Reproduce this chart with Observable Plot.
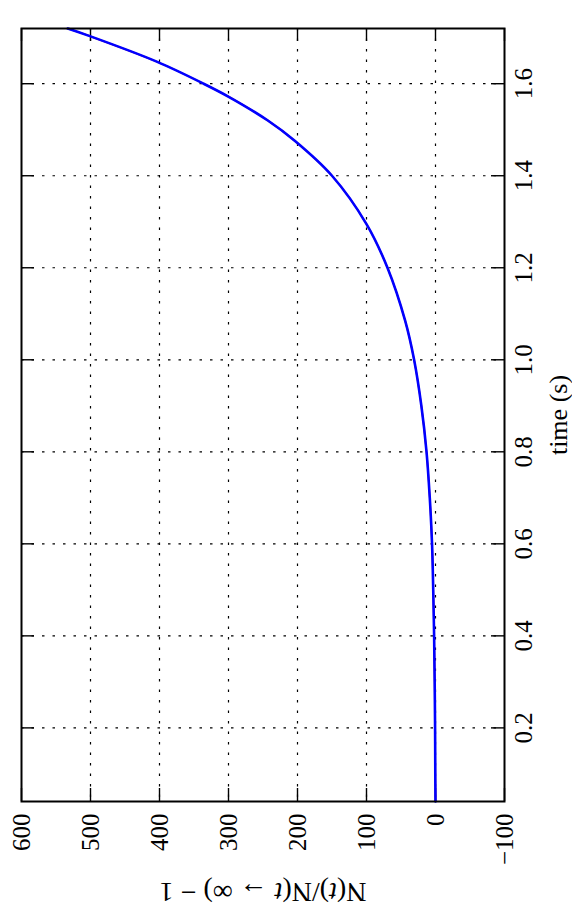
<!DOCTYPE html>
<html><head><meta charset="utf-8">
<script src="https://cdn.jsdelivr.net/npm/d3@7"></script>
<script src="https://cdn.jsdelivr.net/npm/@observablehq/plot@0.6"></script>
<style>body{margin:0;background:#fff;} svg{display:block;}</style>
</head><body><div id="chart"></div>
<script>
// time (s)
const timeS = [0.04, 0.1, 0.2, 0.3, 0.4, 0.5, 0.6, 0.7, 0.8, 0.9, 1.0, 1.085, 1.2, 1.295, 1.4, 1.476, 1.52, 1.571, 1.6, 1.648, 1.704, 1.72];
// N(t)/N(t -> inf) - 1
const ratioValues = [0, 0.3, 0.6, 1.2, 2, 3.3, 5, 8.3, 13, 20.5, 31, 44, 69.6, 100, 150, 204, 243, 299, 336, 404, 502, 533];
const nTicks = [600, 500, 400, 300, 200, 100, 0, -100];
const nTickLabels = ["600", "500", "400", "300", "200", "100", "0", "\u2212100"];
const timeTicks = [0.2, 0.4, 0.6, 0.8, 1.0, 1.2, 1.4, 1.6];
const timeTickLabels = ["0.2", "0.4", "0.6", "0.8", "1.0", "1.2", "1.4", "1.6"];
const timeLabel = "time (s)";
const nLabel = "N(t)/N(t \u2192 \u221E) \u2212 1";

const data = timeS.map((t, i) => ({t, n: ratioValues[i]}));
const nTickData = nTicks.map((v, i) => ({v, label: nTickLabels[i]}));
const timeTickData = timeTicks.map((v, i) => ({v, label: timeTickLabels[i]}));

const W = 572, H = 923, mL = 21, mR = 68, mT = 28, mB = 122;
const frameW = W - mL - mR, frameH = H - mT - mB;
const tickLen = 13;
const gridStyle = {stroke: "#000", strokeOpacity: 1, strokeWidth: 1.2, strokeDasharray: "2.5,8"};
const tickStyle = {stroke: "#000", strokeWidth: 1.4};
const serif = "'Liberation Serif', 'DejaVu Serif', serif";

const plot = Plot.plot({
  width: W, height: H,
  marginLeft: mL, marginRight: mR, marginTop: mT, marginBottom: mB,
  style: {fontFamily: serif, fontSize: "25px", background: "#fff", color: "#000"},
  x: {domain: [-100, 600], reverse: true, axis: null},
  y: {domain: [0.04, 1.72], axis: null},
  marks: [
    Plot.ruleX(nTicks.slice(1, -1), {x: d => d, ...gridStyle}),
    Plot.ruleY(timeTicks, {y: d => d, ...gridStyle}),
    Plot.ruleX(nTicks, {x: d => d, insetTop: frameH - tickLen, ...tickStyle}),
    Plot.ruleX(nTicks, {x: d => d, insetBottom: frameH - tickLen, ...tickStyle}),
    Plot.ruleY(timeTicks, {y: d => d, insetLeft: frameW - tickLen, ...tickStyle}),
    Plot.ruleY(timeTicks, {y: d => d, insetRight: frameW - tickLen, ...tickStyle}),
    Plot.line(data, {x: "n", y: "t", curve: "catmull-rom", stroke: "#ff0000", strokeWidth: 1.6}),
    Plot.line(data, {x: "n", y: "t", curve: "catmull-rom", stroke: "#0000ff", strokeWidth: 2.6}),
    Plot.frame({stroke: "#000", strokeWidth: 2}),
    Plot.text(nTickData, {x: "v", text: "label", frameAnchor: "bottom", dy: 12, rotate: -90, textAnchor: "end", lineAnchor: "middle", fill: "#000", fontFamily: serif}),
    Plot.text(timeTickData, {y: "v", text: "label", frameAnchor: "right", dx: 10, rotate: -90, textAnchor: "middle", lineAnchor: "top", fill: "#000", fontFamily: serif}),
    Plot.text([timeLabel], {text: d => d, frameAnchor: "right", dx: 44, rotate: -90, textAnchor: "middle", lineAnchor: "top", fontSize: 26, fill: "#000", fontFamily: serif}),
    Plot.text([nLabel], {text: d => d, frameAnchor: "bottom", dy: 101, rotate: 180, textAnchor: "middle", lineAnchor: "top", fontSize: 28, fill: "#000", fontFamily: serif})
  ]
});
document.getElementById("chart").appendChild(plot);

// italic t in the N label
for (const el of plot.querySelectorAll("text")) {
  if (el.textContent === nLabel) {
    const parts = [["N(", false], ["t", true], [")/N(", false], ["t", true], [" \u2192 \u221E) \u2212 1", false]];
    el.textContent = "";
    for (const [s, it] of parts) {
      const ts = document.createElementNS("http://www.w3.org/2000/svg", "tspan");
      ts.textContent = s;
      if (it) ts.setAttribute("font-style", "italic");
      el.appendChild(ts);
    }
  }
}
</script>
</body></html>
